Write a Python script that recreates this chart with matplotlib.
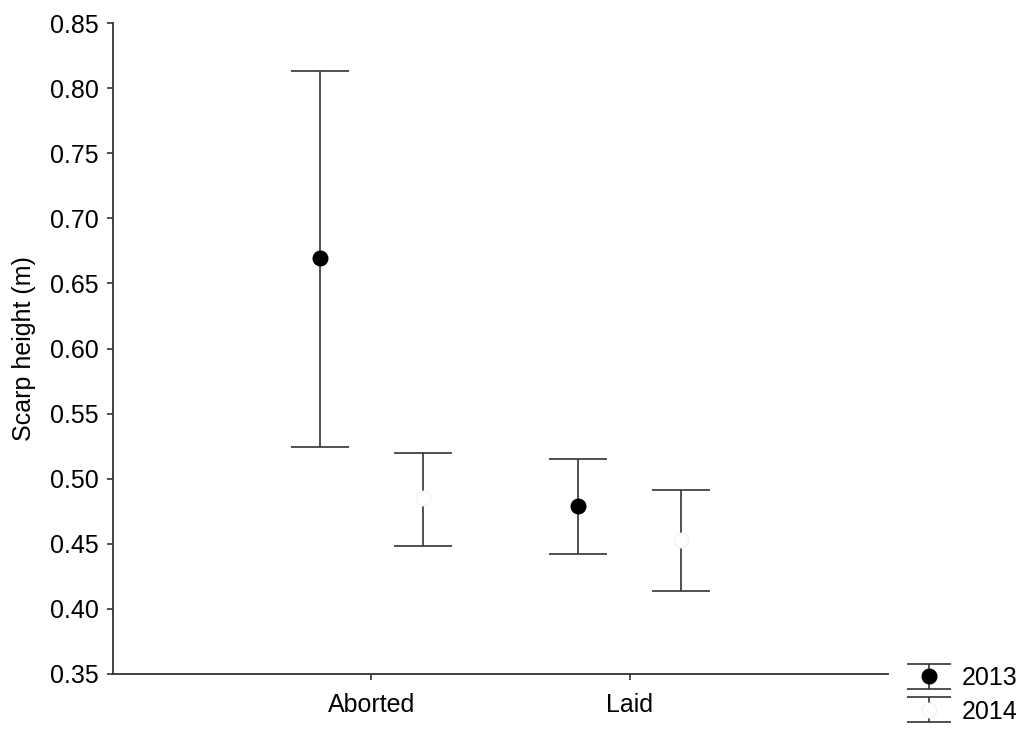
import numpy as np
import matplotlib
matplotlib.use("Agg")
import matplotlib.pyplot as plt
from matplotlib.lines import Line2D

# data
categories = ["Aborted", "Laid"]
years = ["2013", "2014"]
mean_2013 = [0.6695, 0.479]
upper_2013 = [0.813, 0.515]
lower_2013 = [0.524, 0.442]
mean_2014 = [0.485, 0.453]
upper_2014 = [0.520, 0.491]
lower_2014 = [0.448, 0.414]

plt.rcParams['font.family'] = ['Liberation Sans', 'DejaVu Sans']

fig = plt.figure(figsize=(10.26, 7.33), dpi=100)
ax = fig.add_axes([0.110, 0.0805, 0.7555, 0.888])

line_col = "#333333"
x = np.arange(1, len(categories) + 1)
offset = 0.2

m13 = np.array(mean_2013)
err13 = [m13 - np.array(lower_2013), np.array(upper_2013) - m13]
m14 = np.array(mean_2014)
err14 = [m14 - np.array(lower_2014), np.array(upper_2014) - m14]

eb13 = ax.errorbar(x - offset, m13, yerr=err13, fmt='o', color=line_col,
                   ecolor=line_col, elinewidth=1.2, capsize=21, capthick=1.2,
                   markersize=10.5, markerfacecolor='black', markeredgecolor='black',
                   label="2013", zorder=3)
eb14 = ax.errorbar(x + offset, m14, yerr=err14, fmt='o', color=line_col,
                   ecolor=line_col, elinewidth=1.2, capsize=21, capthick=1.2,
                   markersize=10.5, markerfacecolor='white', markeredgecolor='#f2f2f2',
                   label="2014", zorder=3)

ax.set_xlim(0, 3)
ax.set_ylim(0.35, 0.85)
ax.set_yticks(np.arange(0.35, 0.851, 0.05))
ax.set_yticklabels([f"{v:.2f}" for v in np.arange(0.35, 0.851, 0.05)])
ax.set_xticks(x)
ax.set_xticklabels(categories)
ax.tick_params(axis='both', labelsize=18, length=4, width=1.2, color=line_col, pad=6)
ax.tick_params(axis='x', pad=10)
ax.set_ylabel("Scarp height (m)", fontsize=18, labelpad=10)

for s in ['top', 'right']:
    ax.spines[s].set_visible(False)
for s in ['left', 'bottom']:
    ax.spines[s].set_color(line_col)
    ax.spines[s].set_linewidth(1.3)

leg = fig.legend(handles=[eb13, eb14], labels=years, loc='center left',
                 bbox_to_anchor=(0.8855, 0.052), frameon=False, fontsize=18,
                 handlelength=1.6, handletextpad=0.54, labelspacing=0.38,
                 borderpad=0, borderaxespad=0)
# narrower caps in the legend
for ln in leg.findobj(Line2D):
    if ln.get_marker() == '_':
        ln.set_markersize(31)

fig.savefig("out.png", dpi=100)
